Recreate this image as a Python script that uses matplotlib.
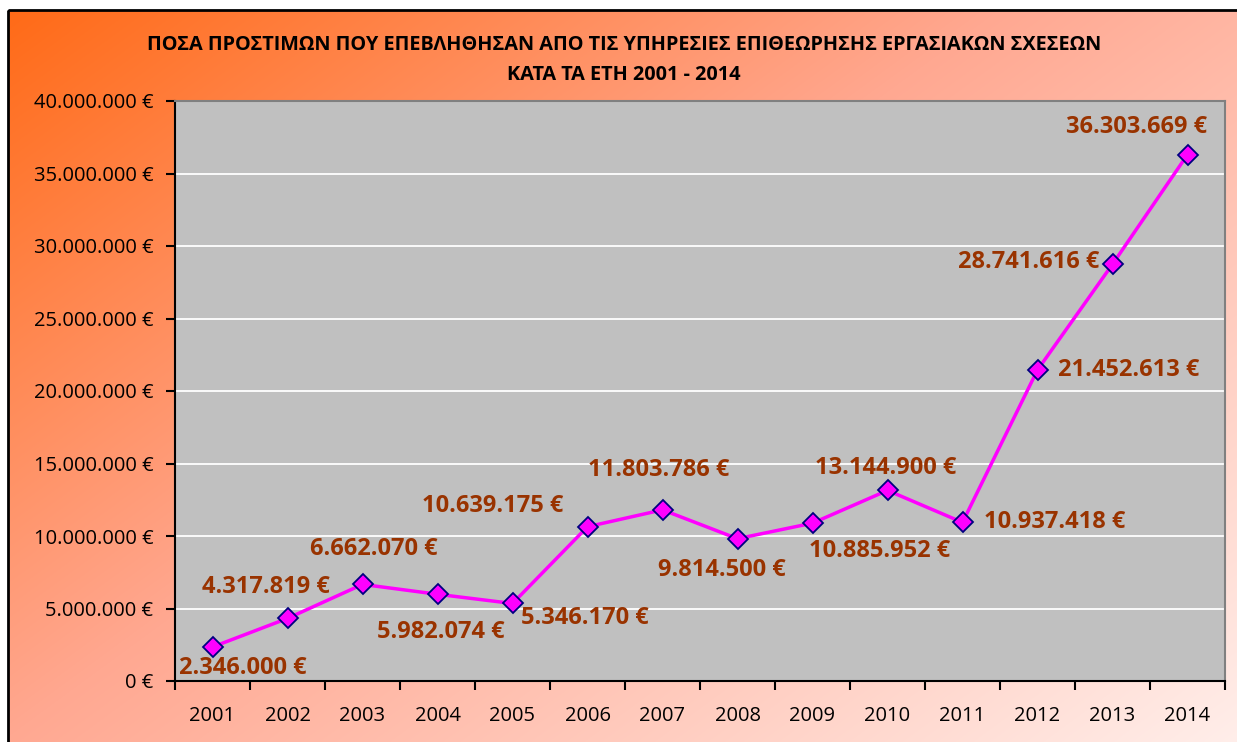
import numpy as np
import matplotlib.pyplot as plt
from matplotlib.patches import Rectangle
from matplotlib.ticker import FuncFormatter, FixedLocator, NullFormatter

plt.rcParams['font.family'] = ['Open Sans', 'DejaVu Sans']

years = ['2001', '2002', '2003', '2004', '2005', '2006', '2007',
         '2008', '2009', '2010', '2011', '2012', '2013', '2014']
fines = [2346000, 4317819, 6662070, 5982074, 5346170, 10639175, 11803786,
         9814500, 10885952, 13144900, 10937418, 21452613, 28741616, 36303669]

title = ('ΠΟΣΑ ΠΡΟΣΤΙΜΩΝ ΠΟΥ ΕΠΕΒΛΗΘΗΣΑΝ ΑΠΟ ΤΙΣ ΥΠΗΡΕΣΙΕΣ ΕΠΙΘΕΩΡΗΣΗΣ ΕΡΓΑΣΙΑΚΩΝ ΣΧΕΣΕΩΝ\n'
         'ΚΑΤΑ ΤΑ ΕΤΗ 2001 - 2014')

# label offsets in pixels (Excel placed them by hand)
offsets = [(30, -21), (-22, 31), (11, 35), (3, -38), (72, -15), (-95, 21), (-4, 40),
           (-16, -31), (67, -28), (-2, 22), (92, 0), (91, 0), (-84, 2), (-51, 28)]


def euro(v):
    return f"{int(round(v)):,}".replace(',', '.') + ' €'


W, H = 1237, 742
fig = plt.figure(figsize=(W / 100, H / 100), dpi=100)

# gradient background
bg = fig.add_axes([0, 0, 1, 1])
yy, xx = np.mgrid[0:H, 0:W]
t = (xx / W * 0.55 + yy / H * 0.45)
stops_t = [0.0, 0.45, 1.0]
stops_c = np.array([[255, 105, 20], [255, 168, 145], [255, 238, 234]]) / 255
img = np.zeros((H, W, 3))
for k in range(3):
    img[..., k] = np.interp(t, stops_t, stops_c[:, k])
img[:10, :] = 1
img[:, :8] = 1
bg.imshow(img, aspect='auto', extent=[0, W, H, 0])
bg.add_patch(Rectangle((8, 10), W + 10, H + 10, fill=False, edgecolor='black', lw=2))
bg.set_xlim(0, W)
bg.set_ylim(H, 0)
bg.axis('off')

ax = fig.add_axes([175 / W, 1 - 681 / H, 1050 / W, 580 / H])
ax.set_facecolor('#C0C0C0')
x = np.arange(len(years))
ax.plot(x, fines, color='#FF00FF', lw=2.5, marker='D', ms=10,
        markerfacecolor='#FF00FF', markeredgecolor='#000080', markeredgewidth=1.3, zorder=3)

for xi, v, (dx, dy) in zip(x, fines, offsets):
    ax.annotate(euro(v), (xi, v), xytext=(dx, dy), textcoords='offset pixels',
                ha='center', va='center', fontsize=17, fontweight='bold',
                color='#993300', zorder=4)

ax.set_xlim(-0.5, len(years) - 0.5)
ax.set_ylim(0, 40000000)
ax.set_yticks(np.arange(0, 40000001, 5000000))
ax.yaxis.set_major_formatter(FuncFormatter(lambda v, p: euro(v)))
ax.grid(axis='y', color='white', lw=1.3)
ax.set_axisbelow(True)

ax.xaxis.set_major_locator(FixedLocator(np.arange(-0.5, len(years), 1)))
ax.xaxis.set_major_formatter(NullFormatter())
ax.xaxis.set_minor_locator(FixedLocator(x))
ax.set_xticklabels(years, minor=True)
ax.tick_params(axis='x', which='minor', length=0, pad=18, labelsize=14.5)
ax.tick_params(axis='x', which='major', length=6.5, width=1.5, direction='out')
ax.tick_params(axis='y', length=6.5, width=1.5, direction='out', labelsize=14.5, pad=9)

for s in ['left', 'bottom']:
    ax.spines[s].set_color('black')
    ax.spines[s].set_linewidth(1.5)
for s in ['top', 'right']:
    ax.spines[s].set_color('#808080')
    ax.spines[s].set_linewidth(1.5)

fig.text(624 / W, 1 - 60 / H, title, ha='center', va='center', fontsize=14.3,
         fontweight='bold', linespacing=1.7)

fig.savefig('out.png', dpi=100)
